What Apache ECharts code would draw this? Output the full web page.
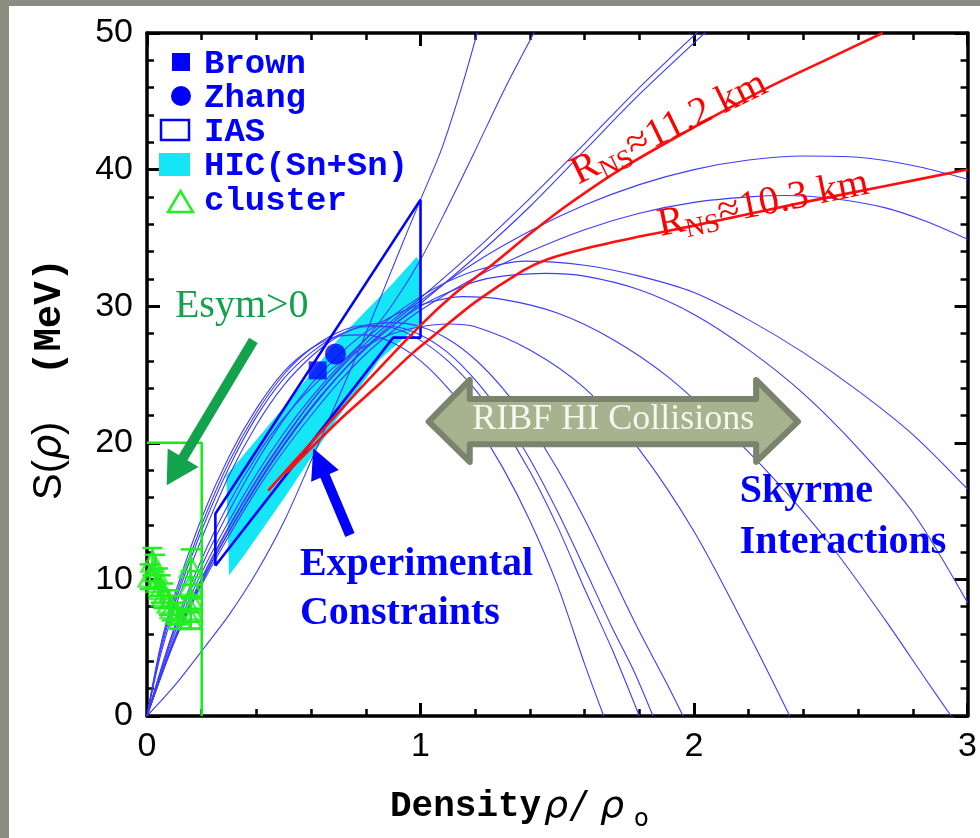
<!DOCTYPE html>
<html>
<head>
<meta charset="utf-8">
<script src="https://cdn.jsdelivr.net/npm/echarts@6/dist/echarts.min.js"></script>
<style>
html, body { margin: 0; padding: 0; background: #8a8d80; }
#frame { position: absolute; left: 9px; top: 6px; width: 971px; height: 832px; background: #fff; }
#chart { position: absolute; left: 0; top: 0; width: 980px; height: 838px; }
</style>
</head>
<body>
<div id="frame"></div>
<div id="chart"></div>
<script>
// ---- data: density rho/rho0 vs S(rho) in MeV ----
const soft1 = [[0,0],[0.05,5.2],[0.1,8.8],[0.2,14.5],[0.3,19],[0.4,22.5],[0.5,25.2],[0.6,26.9],[0.7,27.8],[0.8,27.9],[0.9,27.3],[1.0,26.0],[1.1,24.0],[1.2,21.4],[1.3,18.2],[1.4,14.3],[1.5,9.6],[1.6,3.8],[1.67,0]];
const soft2 = [[0,0],[0.05,5.0],[0.1,8.5],[0.2,14],[0.3,18.6],[0.4,22.2],[0.5,25],[0.6,26.9],[0.7,28.1],[0.8,28.6],[0.9,28.4],[1.0,27.5],[1.1,26.0],[1.2,23.9],[1.3,21.2],[1.4,17.9],[1.5,13.9],[1.6,9.3],[1.7,4.9],[1.8,0]];
const soft3 = [[0,0],[0.05,4.8],[0.1,8.2],[0.2,13.6],[0.3,18.2],[0.4,21.9],[0.5,24.7],[0.6,26.6],[0.7,27.9],[0.8,28.5],[0.9,28.5],[1.0,27.9],[1.1,26.6],[1.2,24.6],[1.3,22.0],[1.4,18.8],[1.5,15.0],[1.6,10.8],[1.7,6.5],[1.78,3.3],[1.85,0]];
const soft4 = [[0,0],[0.05,4.5],[0.1,7.8],[0.2,13],[0.3,17.6],[0.4,21.3],[0.5,24.2],[0.6,26.3],[0.7,27.8],[0.8,28.6],[0.9,28.8],[1.0,28.5],[1.1,27.6],[1.2,26.1],[1.3,24.0],[1.4,21.3],[1.5,18.1],[1.6,14.4],[1.7,10.3],[1.8,6.2],[1.9,2.4],[1.96,0]];
const mid1 = [[0,0],[0.1,6.5],[0.2,11.5],[0.3,15.6],[0.4,19],[0.5,21.8],[0.6,24],[0.7,25.8],[0.8,27.1],[0.9,28],[1.0,28.5],[1.1,28.7],[1.2,28.5],[1.4,26.8],[1.6,24.0],[1.8,19.5],[2.0,13.5],[2.2,6.0],[2.35,0]];
const mid2 = [[0,0],[0.1,6.3],[0.2,11],[0.3,15],[0.4,18.6],[0.5,21.7],[0.6,24.3],[0.7,26.4],[0.8,28.1],[0.9,29.3],[1.0,30.1],[1.15,30.7],[1.3,30.5],[1.5,29.5],[1.7,27.6],[1.9,24.9],[2.1,21.3],[2.3,17.2],[2.5,12.5],[2.7,7.0],[2.85,2.6],[2.94,0]];
const mid3 = [[0,0],[0.1,6],[0.2,10.5],[0.3,14.3],[0.4,17.7],[0.5,20.7],[0.6,23.3],[0.7,25.6],[0.8,27.6],[0.9,29.3],[1.0,30.7],[1.1,31.8],[1.2,32.6],[1.38,33.3],[1.6,33.0],[1.8,32.2],[2.0,31.0],[2.2,29.0],[2.4,26.6],[2.6,23.8],[2.8,20.6],[3.0,16.6]];
const mid4 = [[0,0],[0.1,5.5],[0.2,9.8],[0.3,13.5],[0.4,16.9],[0.5,19.9],[0.6,22.6],[0.7,24.9],[0.8,26.9],[0.9,28.6],[1.0,30.0],[1.1,31.0],[1.2,31.8],[1.3,32.2],[1.46,32.4],[1.6,32.2],[1.8,31.2],[2.0,29.4],[2.2,26.8],[2.4,23.6],[2.6,19.6],[2.8,14.9],[3.0,8.3]];
const high1 = [[0,0],[0.1,5.5],[0.2,9.8],[0.3,13.5],[0.4,16.8],[0.5,19.8],[0.6,22.5],[0.7,24.9],[0.8,27],[0.9,28.8],[1.0,30.4],[1.2,33.2],[1.4,35.5],[1.6,37.4],[1.8,38.9],[2.0,40.0],[2.2,40.7],[2.4,41.0],[2.6,40.9],[2.8,40.3],[3.0,39.3]];
const high2 = [[0,0],[0.1,5.4],[0.2,9.6],[0.3,13.2],[0.4,16.5],[0.5,19.4],[0.6,22.0],[0.7,24.4],[0.8,26.5],[0.9,28.2],[1.0,29.7],[1.2,32.1],[1.4,34.0],[1.6,35.6],[1.8,36.8],[2.0,37.6],[2.2,38.0],[2.34,38.1],[2.5,37.9],[2.7,37.2],[2.85,36.2],[3.0,34.9]];
const stiff1 = [[0,0],[0.1,2.2],[0.194,4.6],[0.3,7.4],[0.4,10.5],[0.5,14.2],[0.596,18.5],[0.7,23.3],[0.8,28.0],[0.924,34.1],[1.0,37.8],[1.077,41.5],[1.15,46],[1.21,50.2]];
const stiff2 = [[0,0],[0.1,5.6],[0.2,10],[0.3,13.8],[0.4,17.2],[0.5,20.2],[0.6,23],[0.7,25.4],[0.8,27.6],[0.9,30.2],[1.0,33.4],[1.1,37.3],[1.2,41.4],[1.31,46],[1.42,50.2]];
const stiff3 = [[0,0],[0.1,5.5],[0.2,9.8],[0.3,13.5],[0.4,16.8],[0.5,19.8],[0.6,22.5],[0.7,24.9],[0.8,27.0],[0.9,28.6],[1.0,30.2],[1.2,33.6],[1.4,37.3],[1.6,41.4],[1.8,45.5],[2.05,50.2]];
const stiff4 = [[0,0],[0.1,5.7],[0.2,10.1],[0.3,13.9],[0.4,17.3],[0.5,20.3],[0.6,23.0],[0.7,25.3],[0.8,27.3],[0.9,29.0],[1.0,30.6],[1.2,34.1],[1.4,37.9],[1.6,41.9],[1.8,46.0],[2.02,50.2]];
const skyrmeCurves = [soft1, soft2, soft3, soft4, mid1, mid2, mid3, mid4, high1, high2, stiff1, stiff2, stiff3, stiff4];

const rns112 = [[0.443,16.5],[0.6,20.0],[0.8,24.4],[1.0,28.6],[1.13,31.0],[1.26,33.0],[1.4,35.3],[1.53,37.3],[1.73,40.0],[2.0,43.1],[2.27,46.0],[2.5,48.2],[2.69,50]];
const rns103 = [[0.51,17.8],[0.7,21.6],[0.85,24.3],[0.973,26.6],[1.07,28.2],[1.2,30.3],[1.375,32.6],[1.46,33.4],[1.6,34.2],[1.8,35.1],[2.0,35.9],[2.4,37.6],[2.7,38.8],[3.0,40.0]];

const iasBox = [[0.25,11.0],[0.25,14.8],[1.0,37.8],[1.0,27.7],[0.9,27.7],[0.25,11.0]];
const hicBand = [[0.30,10.3],[0.29,17.6],[0.5,22.6],[0.7,27.6],[0.9,31.7],[0.985,33.6],[1.0,33.2],[0.997,28.7],[0.851,26.1],[0.693,21.7],[0.5,15.9],[0.36,11.9]];
const brownPt = [[0.624,25.3]];
const zhangPt = [[0.689,26.5]];
// cluster points: [density, S, error]
const clusterPts = [[0.02,11.3,1.0],[0.03,10.6,1.2],[0.01,10.2,0.9],[0.04,9.8,1.0],[0.05,9.3,1.0],[0.06,8.8,0.9],[0.08,8.3,0.9],[0.09,7.9,0.9],[0.11,7.5,0.8],[0.12,7.1,0.7],
                    [0.16,10.9,1.3],[0.16,9.6,1.0],[0.16,8.6,1.0],[0.16,7.8,0.9],[0.16,7.1,0.7]];
const esymBox = [[0,20],[0.2,20],[0.2,0]];

const ribfArrow = [[1.03,21.55],[1.18,24.6],[1.18,23.2],[2.227,23.2],[2.227,24.6],[2.38,21.55],[2.227,18.6],[2.227,19.9],[1.18,19.9],[1.18,18.6]];
const esymArrow = [[0.389,27.5],[0.072,16.9]];
const expArrow = [[0.742,13.25],[0.608,19.6]];

const xTicks = [0, 3, 1];   // min, max, step
const yTicks = [0, 50, 10];

// ---- chart ----
const chart = echarts.init(document.getElementById('chart'));

function frameAxis(position, ticks, showLabel) {
  return {
    type: 'value', position: position, min: ticks[0], max: ticks[1], interval: ticks[2],
    axisLine: { show: true, onZero: false, lineStyle: { color: '#000', width: 3.5 } },
    axisTick: { show: true, inside: true, length: 13, lineStyle: { color: '#000', width: 3 } },
    minorTick: { show: true, splitNumber: 5, length: 7, lineStyle: { color: '#000', width: 2.5 } },
    splitLine: { show: false },
    axisLabel: { show: showLabel, showMinLabel: true, showMaxLabel: true, color: '#000',
                 fontFamily: 'Liberation Sans', fontSize: 34, margin: 14 }
  };
}

function curve(data, color, width, z) {
  return { type: 'line', data: data, symbol: 'none', smooth: 0.3,
           lineStyle: { color: color, width: width }, z: z, silent: true };
}

const series = skyrmeCurves.map(c => curve(c, '#3c3cff', 1.1, 3));
series.push({
  type: 'custom', data: hicBand, z: 2, silent: true,
  renderItem: function (params, api) {
    if (params.dataIndex !== 0) return;
    return { type: 'polygon', shape: { points: hicBand.map(p => api.coord(p)) }, style: { fill: '#14e6f6' } };
  }
});
series.push({ type: 'line', data: iasBox, symbol: 'none', lineStyle: { color: '#0000ff', width: 2.6 }, z: 5, silent: true });
series.push(curve(rns112, '#ff1010', 2.6, 6));
series.push(curve(rns103, '#ff1010', 2.6, 6));
series.push({ type: 'line', data: esymBox, symbol: 'none', lineStyle: { color: '#11ee11', width: 2.5 }, z: 4, silent: true });
series.push({ type: 'scatter', data: brownPt, symbol: 'rect', symbolSize: 18, itemStyle: { color: '#0000ff' }, z: 7 });
series.push({ type: 'scatter', data: zhangPt, symbol: 'circle', symbolSize: 21, itemStyle: { color: '#0000ff' }, z: 7 });
series.push({
  type: 'custom', data: clusterPts, z: 8, silent: true,
  renderItem: function (params, api) {
    const x = api.value(0), y = api.value(1), e = api.value(2);
    const hi = api.coord([x, y + e]), lo = api.coord([x, y - e]);
    const st = { stroke: '#22ee22', lineWidth: 2.5 };
    return { type: 'group', children: [
      { type: 'line', shape: { x1: hi[0], y1: hi[1], x2: lo[0], y2: lo[1] }, style: st },
      { type: 'line', shape: { x1: hi[0] - 10, y1: hi[1], x2: hi[0] + 10, y2: hi[1] }, style: st },
      { type: 'line', shape: { x1: lo[0] - 10, y1: lo[1], x2: lo[0] + 10, y2: lo[1] }, style: st }
    ] };
  }
});
series.push({ type: 'scatter', data: clusterPts, symbol: 'triangle', symbolSize: [22, 20],
              itemStyle: { color: 'rgba(255,255,255,0)', borderColor: '#22ee22', borderWidth: 2.5 }, z: 8 });

chart.setOption({
  animation: false,
  backgroundColor: 'transparent',
  grid: { left: 147, right: 12, top: 33, bottom: 122 },
  xAxis: [frameAxis('bottom', xTicks, true), frameAxis('top', xTicks, false)],
  yAxis: [frameAxis('left', yTicks, true), frameAxis('right', yTicks, false)],
  series: series
});

// ---- annotations ----
const P = (p) => chart.convertToPixel({ gridIndex: 0 }, p);

function arrowPoly(a, b, w, L, H, color) {
  const p0 = P(a), p1 = P(b);
  const dx = p1[0] - p0[0], dy = p1[1] - p0[1], len = Math.hypot(dx, dy);
  const ux = dx / len, uy = dy / len, nx = -uy, ny = ux;
  const bx = p1[0] - ux * L, by = p1[1] - uy * L;
  return { type: 'polygon', z: 60, silent: true,
    shape: { points: [
      [p0[0] + nx * w / 2, p0[1] + ny * w / 2], [bx + nx * w / 2, by + ny * w / 2], [bx + nx * H / 2, by + ny * H / 2],
      p1, [bx - nx * H / 2, by - ny * H / 2], [bx - nx * w / 2, by - ny * w / 2], [p0[0] - nx * w / 2, p0[1] - ny * w / 2]] },
    style: { fill: color } };
}

function txt(x, y, s, font, fill, align) {
  return { type: 'text', x: x, y: y, z: 70, silent: true,
           style: { text: s, font: font, fill: fill, align: align || 'left', verticalAlign: 'middle' } };
}
function txtAt(p, s, font, fill, align) {
  const q = P(p);
  return txt(q[0], q[1], s, font, fill, align);
}

function rnsLabel(p, angleDeg, value) {
  const q = P(p);
  return { type: 'group', x: q[0], y: q[1], rotation: angleDeg * Math.PI / 180, z: 70, silent: true,
    children: [
      txt(0, 0, 'R', '40px "Liberation Serif"', '#ff0000'),
      txt(26, 10, 'NS', '27px "Liberation Serif"', '#ff0000'),
      txt(61, 0, '\u2248' + value + ' km', '40px "Liberation Serif"', '#ff0000')
    ] };
}

const serif = '"Liberation Serif"';
const mono = '"Liberation Mono"';
const graphic = [
  { type: 'polygon', z: 60, silent: true, shape: { points: ribfArrow.map(P) },
    style: { fill: '#a7b28f', stroke: '#7a846c', lineWidth: 6, lineJoin: 'round' } },
  txtAt([1.705, 21.7], 'RIBF HI Collisions', '36px ' + serif, '#f7f7ef', 'center'),
  arrowPoly(esymArrow[0], esymArrow[1], 10, 32, 36, '#13a34c'),
  arrowPoly(expArrow[0], expArrow[1], 10, 30, 30, '#0000ff'),
  txtAt([0.102, 29.95], 'Esym>0', '40px ' + serif, '#14a04c'),
  txtAt([0.559, 11.1], 'Experimental', 'bold 40px ' + serif, '#0000ff'),
  txtAt([0.559, 7.5], 'Constraints', 'bold 40px ' + serif, '#0000ff'),
  txtAt([2.167, 16.4], 'Skyrme', 'bold 40px ' + serif, '#0000ff'),
  txtAt([2.167, 12.7], 'Interactions', 'bold 40px ' + serif, '#0000ff'),
  rnsLabel([1.56, 39.6], 26, '11.2'),
  rnsLabel([1.87, 35.9], 11.5, '10.3'),
  // legend
  { type: 'rect', z: 70, shape: { x: 172, y: 53, width: 18, height: 18 }, style: { fill: '#0000ff' } },
  { type: 'circle', z: 70, shape: { cx: 181, cy: 96, r: 10 }, style: { fill: '#0000ff' } },
  { type: 'rect', z: 70, shape: { x: 161, y: 120, width: 28, height: 20 }, style: { fill: 'none', stroke: '#0000ff', lineWidth: 2.5 } },
  { type: 'rect', z: 70, shape: { x: 159, y: 153, width: 31, height: 23 }, style: { fill: '#14e6f6' } },
  { type: 'polygon', z: 70, shape: { points: [[168, 212], [193, 212], [180.5, 191]] }, style: { fill: 'none', stroke: '#22ee22', lineWidth: 2.5 } },
  txt(204, 64, 'Brown', 'bold 34px ' + mono, '#0000ff'),
  txt(204, 98, 'Zhang', 'bold 34px ' + mono, '#0000ff'),
  txt(204, 132, 'IAS', 'bold 34px ' + mono, '#0000ff'),
  txt(204, 166, 'HIC(Sn+Sn)', 'bold 34px ' + mono, '#0000ff'),
  txt(204, 201, 'cluster', 'bold 34px ' + mono, '#0000ff'),
  // axis titles
  txt(390, 807, 'Density', 'bold 36px ' + mono, '#000'),
  txt(544, 807, '\u03c1', 'italic 38px "DejaVu Sans"', '#000'),
  txt(572, 807, '/', 'italic 38px "DejaVu Sans"', '#000'),
  txt(600, 807, '\u03c1', 'italic 38px "DejaVu Sans"', '#000'),
  txt(634, 820, 'o', '24px "DejaVu Sans"', '#000'),
  { type: 'group', x: 50, y: 500, rotation: Math.PI / 2, z: 70, silent: true,
    children: [
      txt(0, 0, 'S(', '40px "Liberation Sans"', '#000'),
      txt(40, 0, '\u03c1', 'italic 40px "DejaVu Sans"', '#000'),
      txt(65, 0, ')', '40px "Liberation Sans"', '#000'),
      txt(125, 0, '(MeV)', 'bold 39px ' + mono, '#000')
    ] }
];
chart.setOption({ graphic: graphic });
</script>
</body>
</html>
